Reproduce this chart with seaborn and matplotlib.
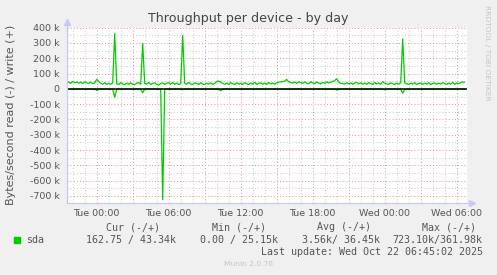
import numpy as np
import pandas as pd
import matplotlib
matplotlib.use("Agg")
import matplotlib.pyplot as plt
from matplotlib.ticker import FixedLocator, FuncFormatter
import seaborn as sns

# ---- data (k bytes/s, 10-minute samples starting Mon 21:30) ----
write_k = [
    40, 46, 36, 48, 41, 45, 37, 44, 35, 47, 39, 36, 44, 34, 41, 62, 50, 38, 30, 40,
    29, 37, 31, 39, 361.98, 33, 29, 41, 32, 28, 38, 30, 40, 31, 28, 37, 41, 30, 296, 36,
    31, 42, 29, 36, 40, 30, 25.15, 35, 39, 29, 37, 41, 31, 42, 30, 38, 28, 36, 348, 37,
    30, 43, 32, 28, 40, 35, 29, 41, 31, 28, 38, 31, 40, 29, 36, 48, 52, 44, 36, 30,
    38, 29, 42, 34, 28, 40, 31, 38, 29, 41, 33, 28, 39, 31, 43, 29, 36, 40, 30, 38,
    29, 42, 33, 39, 31, 40, 44, 46, 48, 50, 62, 46, 43, 38, 45, 36, 47, 41, 37, 46,
    37, 34, 48, 39, 35, 45, 38, 33, 43, 36, 46, 39, 44, 48, 55, 66, 45, 37, 35, 31,
    40, 33, 39, 30, 38, 43, 32, 40, 31, 38, 30, 41, 35, 29, 42, 32, 39, 30, 47, 38,
    33, 30, 39, 34, 29, 38, 31, 40, 327, 40, 33, 29, 38, 31, 41, 28, 36, 39, 30, 37,
    31, 40, 28, 36, 39, 30, 38, 31, 41, 34, 29, 38, 31, 42, 30, 39, 34, 42, 46, 43.34,
]
read_k = [
    1.5, 2.0, 1.2, 0.8, 1.8, 2.5, 1.0, 0.6, 1.4, 2.2, 1.1, 0.9, 1.6, 2.0, 1.3, 10, 2.4, 1.0, 0.7, 1.5,
    1.2, 0.9, 1.8, 2.6, 55, 3.0, 1.1, 0.8, 1.4, 2.0, 1.0, 0.6, 1.5, 1.9, 1.2, 0.8, 1.6, 2.3, 25, 2.0,
    1.4, 0.9, 1.2, 1.8, 1.0, 0.7, 1.5, 2.2, 723.1, 3.5, 1.3, 0.9, 1.6, 1.1, 0.8, 1.4, 2.0, 1.2, 5, 1.8,
    1.1, 0.7, 1.3, 1.9, 1.0, 0.6, 1.5, 2.1, 1.2, 0.9, 1.4, 1.0, 0.8, 1.6, 2.2, 1.1, 3, 12, 2.5, 1.0,
    0.8, 1.4, 1.9, 1.1, 0.7, 1.3, 2.0, 1.2, 0.9, 1.5, 1.0, 0.6, 1.4, 2.1, 1.3, 0.8, 1.6, 1.1, 0.9, 1.5,
    1.2, 0.8, 1.7, 2.2, 1.0, 0.7, 1.4, 1.9, 1.1, 0.9, 1.6, 2.4, 1.3, 0.8, 1.5, 1.0, 0.7, 1.8, 1.2, 0.9,
    1.4, 2.0, 1.1, 0.8, 1.6, 1.0, 0.7, 1.3, 1.9, 1.2, 0.9, 1.5, 2.6, 3.0, 1.8, 8, 2.0, 1.1, 0.8, 1.4,
    1.0, 0.6, 1.5, 2.1, 1.2, 0.9, 1.4, 1.0, 0.8, 1.6, 2.2, 1.1, 0.7, 1.3, 1.9, 1.0, 0.8, 1.5, 2.4, 6,
    1.5, 1.0, 0.7, 1.3, 1.8, 1.1, 0.9, 2.0, 28, 3.2, 1.2, 0.8, 1.4, 1.9, 1.0, 0.7, 1.5, 2.0, 1.1, 0.9,
    1.4, 1.0, 0.6, 1.3, 1.8, 1.2, 0.8, 1.5, 1.0, 0.7, 1.6, 2.1, 1.1, 0.9, 1.4, 1.0, 0.6, 1.2, 0.9, 0.16,
]
sample_minutes = 10
x_tick_labels = ["Tue 00:00", "Tue 06:00", "Tue 12:00", "Tue 18:00", "Wed 00:00", "Wed 06:00"]
label_hours = [2.5, 8.5, 14.5, 20.5, 26.5, 32.5]

legend_name = "sda"
legend_cols = ["Cur (-/+)", "Min (-/+)", "Avg (-/+)", "Max (-/+)"]
legend_vals = ["162.75 / 43.34k", "0.00 / 25.15k", "3.56k/ 36.45k", "723.10k/361.98k"]
title = "Throughput per device - by day"
ylabel = "Bytes/second read (-) / write (+)"
last_update = "Last update: Wed Oct 22 06:45:02 2025"
footer = "Munin 2.0.76"
side_text = "RRDTOOL / TOBI OETIKER"

# ---- frame ----
hours = np.arange(len(write_k)) * sample_minutes / 60.0
df = pd.DataFrame({
    "hours": hours,
    "write": np.array(write_k) * 1000.0,
    "read": -np.array(read_k) * 1000.0,
})

sns.set_theme(style="white")
plt.rcParams["font.family"] = ["DejaVu Sans"]
plt.rcParams["lines.scale_dashes"] = False

W, H = 497, 275
fig = plt.figure(figsize=(W / 100, H / 100), dpi=100, facecolor="#f0f0f0")
ax = fig.add_axes([66.7 / W, (H - 202.7) / H, 400 / W, 175 / H])
ax.set_facecolor("white")

GREEN = "#00cc00"
sns.lineplot(data=df, x="hours", y="read", color=GREEN, lw=0.9, ax=ax, zorder=3)
sns.lineplot(data=df, x="hours", y="write", color=GREEN, lw=0.9, ax=ax, zorder=3)
ax.axhline(0, color="black", lw=1.1, zorder=4)

ax.set_xlim(0, 400 / 12)
ax.set_ylim(-744000, 400000)

# ticks / grid
major_x = [2.5 + 3 * k for k in range(11)]
minor_x = [0.5 + k for k in range(33)]
ax.xaxis.set_major_locator(FixedLocator(major_x))
ax.xaxis.set_minor_locator(FixedLocator(minor_x))
ax.xaxis.set_major_formatter(FuncFormatter(
    lambda v, p: x_tick_labels[label_hours.index(v)] if v in label_hours else ""))
ax.yaxis.set_major_locator(FixedLocator([k * 100000 for k in range(-7, 5)]))
ax.yaxis.set_minor_locator(FixedLocator([k * 50000 for k in range(-14, 9)]))
ax.yaxis.set_major_formatter(FuncFormatter(
    lambda v, p: "0" if abs(v) < 1 else f"{int(round(v / 1000))} k"))

ax.grid(which="major", color="#e89a9a", lw=0.75, ls=(0, (0.75, 1.5)), zorder=0)
ax.grid(which="minor", color="#cccccc", lw=0.75, ls=(0, (0.75, 1.5)), zorder=0)
ax.set_axisbelow(True)

ax.tick_params(axis="x", which="major", direction="inout", length=3.5, width=0.75,
               color="#e07a7a", labelsize=6.8, labelcolor="#555555", pad=2.5)
ax.tick_params(axis="x", which="minor", direction="inout", length=2.5, width=0.75,
               color="#bbbbbb")
ax.tick_params(axis="y", which="both", length=0, labelsize=6.8, labelcolor="#555555", pad=5)
ax.set_xlabel("")
ax.set_ylabel("")
for s in ax.spines.values():
    s.set_visible(False)

AX = "#c8c8f4"
ax.plot([0, 0], [0, 1.025], transform=ax.transAxes, color=AX, lw=0.9, clip_on=False, zorder=5)
ax.plot([0, 1.01], [0, 0], transform=ax.transAxes, color=AX, lw=0.9, clip_on=False, zorder=5)
ax.plot([0], [1.03], marker="^", ms=4, color=AX, transform=ax.transAxes, clip_on=False, zorder=5)
ax.plot([1.012], [0], marker=">", ms=4, color=AX, transform=ax.transAxes, clip_on=False, zorder=5)

# texts
fig.text(248 / W, 1 - 18.5 / H, title, ha="center", va="center", fontsize=9.1, color="#444444")
fig.text(11.5 / W, 1 - 115 / H, ylabel, rotation=90, ha="center", va="center",
         fontsize=8, color="#555555")
fig.text(487.5 / W, 1 - 53 / H, side_text, rotation=270, ha="center", va="center",
         fontsize=5.4, color="#c4c4c4")

mono = "DejaVu Sans Mono"
fs = 7.2
col_right_head = [160, 266, 371, 476]
col_right_vals = [176, 278, 380, 482.7]
for x, t in zip(col_right_head, legend_cols):
    fig.text(x / W, 1 - 227.3 / H, t, ha="right", va="center", fontsize=fs,
             family=mono, color="#555555")
for x, t in zip(col_right_vals, legend_vals):
    fig.text(x / W, 1 - 240 / H, t, ha="right", va="center", fontsize=fs,
             family=mono, color="#555555")
fig.patches.append(plt.Rectangle((14 / W, 1 - 243 / H), 6 / W, 6 / H,
                                 transform=fig.transFigure, color=GREEN))
fig.text(26.5 / W, 1 - 240 / H, legend_name, ha="left", va="center", fontsize=fs,
         family=mono, color="#555555")
fig.text(482.7 / W, 1 - 251.7 / H, last_update, ha="right", va="center", fontsize=fs,
         family=mono, color="#555555")
fig.text(248 / W, 1 - 264 / H, footer, ha="center", va="center", fontsize=5.4,
         color="#c4c4c4")

fig.savefig("out.png", dpi=100, facecolor=fig.get_facecolor())
